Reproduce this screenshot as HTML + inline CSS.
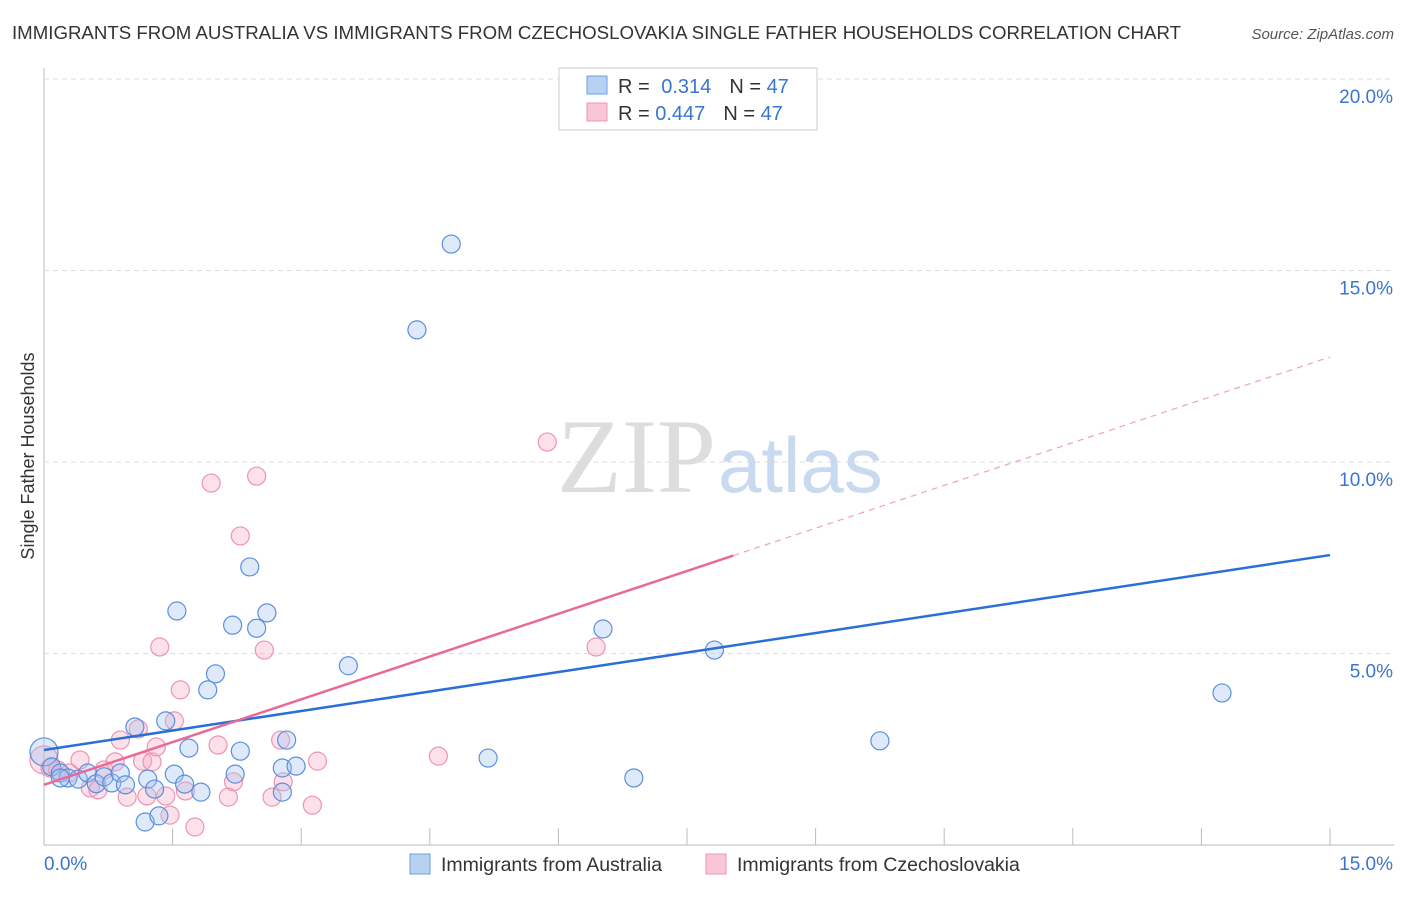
<!DOCTYPE html>
<html><head><meta charset="utf-8"><style>
body{margin:0;background:#fff;font-family:"Liberation Sans",sans-serif}
</style></head><body>
<svg id="c" width="1406" height="892" xmlns="http://www.w3.org/2000/svg">
<text x="12" y="39" font-size="18.6" fill="#333" textLength="1169" lengthAdjust="spacingAndGlyphs">IMMIGRANTS FROM AUSTRALIA VS IMMIGRANTS FROM CZECHOSLOVAKIA SINGLE FATHER HOUSEHOLDS CORRELATION CHART</text>
<text x="1394" y="39" font-size="15" fill="#555" font-style="italic" text-anchor="end">Source: ZipAtlas.com</text>
<text x="34" y="456" font-size="18" fill="#333" text-anchor="middle" transform="rotate(-90 34 456)">Single Father Households</text>
<text x="716" y="492" font-size="106" fill="#ddd" text-anchor="end" font-family="Liberation Serif,serif">ZIP</text>
<text x="718" y="492" font-size="78" fill="#c9d9ef">atlas</text>
<g id="grid"></g><g id="pts"></g><g id="lines"></g>
<rect x="559" y="68" width="258" height="62" fill="#fff" stroke="#ccc"/>
<rect x="587" y="76" width="20" height="18" fill="#b7d1f3" stroke="#6d9fe0"/>
<rect x="587" y="103" width="20" height="18" fill="#f9c6d5" stroke="#ee94b0"/>
<text x="618" y="93" font-size="20" fill="#333">R = <tspan fill="#3a75d0" dx="6">0.314</tspan><tspan dx="18">N = </tspan><tspan fill="#3a75d0">47</tspan></text>
<text x="618" y="120" font-size="20" fill="#333">R = <tspan fill="#3a75d0">0.447</tspan><tspan dx="18">N = </tspan><tspan fill="#3a75d0">47</tspan></text>
<rect x="410" y="854" width="20" height="20" fill="#b7d1f3" stroke="#6d9fe0"/>
<text x="441" y="871" font-size="19.5" fill="#333">Immigrants from Australia</text>
<rect x="706" y="854" width="20" height="20" fill="#f9c6d5" stroke="#ee94b0"/>
<text x="737" y="871" font-size="19.5" fill="#333">Immigrants from Czechoslovakia</text>
</svg>
<script>
const xTicks=[0,15];
const yTicks=[5,10,15,20];
const blueX=[0,0.09,0.19,0.28,0.4,0.51,0.61,0.7,0.79,0.89,0.95,1.06,1.21,1.29,1.18,1.34,1.42,1.52,1.55,1.64,1.69,1.83,1.91,2.0,2.2,2.23,2.29,2.4,2.48,2.6,2.78,2.78,2.83,2.94,3.55,4.35,4.75,5.18,6.52,6.88,7.82,9.75,13.74,0.19];
const blueY=[2.43,2.04,1.88,1.75,1.72,1.88,1.6,1.78,1.62,1.88,1.57,3.08,1.72,1.46,0.6,0.76,3.24,1.85,6.11,1.59,2.53,1.38,4.05,4.47,5.74,1.85,2.45,7.26,5.66,6.06,2.01,1.38,2.74,2.06,4.68,13.45,15.69,2.27,5.64,1.75,5.09,2.72,3.97,1.75];
const blueR=[14,9,9,9,9,9,9,9,9,9,9,9,9,9,9,9,9,9,9,9,9,9,9,9,9,9,9,9,9,9,9,9,9,9,9,9,9,9,9,9,9,9,9,9];
const pinkX=[0,0.07,0.16,0.3,0.42,0.54,0.63,0.7,0.83,0.89,0.97,1.1,1.15,1.2,1.26,1.31,1.35,1.42,1.47,1.52,1.59,1.65,1.76,1.95,2.03,2.15,2.21,2.29,2.48,2.57,2.66,2.76,2.79,3.13,3.19,4.6,5.87,6.44];
const pinkY=[2.22,2.01,1.96,1.88,2.22,1.49,1.44,1.96,2.17,2.74,1.25,3.03,2.19,1.28,2.17,2.56,5.17,1.28,0.78,3.24,4.05,1.41,0.47,9.45,2.61,1.25,1.65,8.07,9.63,5.09,1.25,2.74,1.65,1.04,2.19,2.32,10.52,5.17];
const pinkR=[14,9,9,9,9,9,9,9,9,9,9,9,9,9,9,9,9,9,9,9,9,9,9,9,9,9,9,9,9,9,9,9,9,9,9,9,9,9];
const blueLine=[2.48,7.57];
const pinkLine=[1.57,12.74];
const pinkSolidEnd=8.04;
const NS='http://www.w3.org/2000/svg';
const X=v=>44+v/15*1286, Y=v=>845-v/5*191.5;
function mk(t,a,p){const e=document.createElementNS(NS,t);for(const k in a)e.setAttribute(k,a[k]);document.getElementById(p).appendChild(e);return e;}
let e=mk('line',{x1:44,y1:68,x2:44,y2:845,stroke:'#bbb'},'grid');


e=mk('line',{x1:44,y1:845,x2:1394,y2:845,stroke:'#bbb'},'grid');


yTicks.forEach(t=>{
 e=mk('line',{x1:44,y1:Y(t),x2:1394,y2:Y(t),stroke:'#ddd','stroke-dasharray':'5 4'},'grid');
 
 
 e=mk('text',{x:1393,y:Y(t)+24,'font-size':19,fill:'#3a75d0','text-anchor':'end'},'grid');e.textContent=t.toFixed(1)+'%';
 
 
});
for(let i=1;i<=10;i++){e=mk('line',{x1:44+i*128.6,y1:828,x2:44+i*128.6,y2:845,stroke:'#bbb'},'grid');
 
 }
xTicks.forEach((t,i)=>{e=mk('text',{x:i?1393:44,y:870,'font-size':19,fill:'#3a75d0','text-anchor':i?'end':'start'},'grid');e.textContent=t.toFixed(1)+'%';
 
 });
pinkX.forEach((v,i)=>{e=mk('circle',{cx:X(v),cy:Y(pinkY[i]),r:pinkR[i],fill:'rgba(246,170,194,0.35)',stroke:'#ee94b0','stroke-width':1.2},'pts');
 
 });
blueX.forEach((v,i)=>{e=mk('circle',{cx:X(v),cy:Y(blueY[i]),r:blueR[i],fill:'rgba(160,195,240,0.35)',stroke:'#5b8fdc','stroke-width':1.2},'pts');
 
 });
const py=x=>pinkLine[0]+(pinkLine[1]-pinkLine[0])*x/15;
e=mk('line',{x1:X(0),y1:Y(blueLine[0]),x2:X(15),y2:Y(blueLine[1]),stroke:'#2a6fd6','stroke-width':2.5},'lines');


e=mk('line',{x1:X(0),y1:Y(pinkLine[0]),x2:X(pinkSolidEnd),y2:Y(py(pinkSolidEnd)),stroke:'#e8699a','stroke-width':2.5},'lines');


e=mk('line',{x1:X(pinkSolidEnd),y1:Y(py(pinkSolidEnd)),x2:X(15),y2:Y(pinkLine[1]),stroke:'#f0a0bc','stroke-width':1.2,'stroke-dasharray':'6 5'},'lines');


</script>
</body></html>
